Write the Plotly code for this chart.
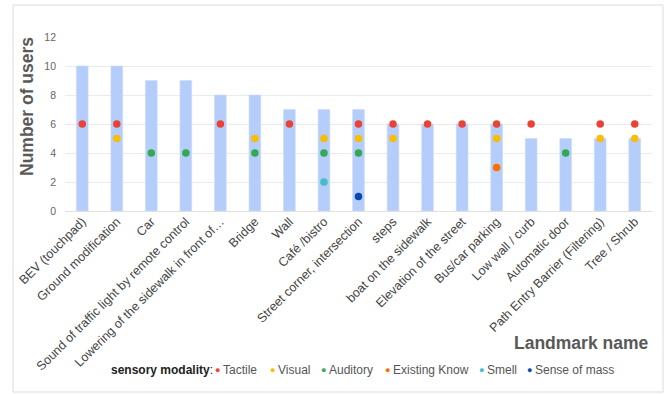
import plotly.graph_objects as go

# Landmarks and how many users named each one
landmarks = [
    "BEV (touchpad)", "Ground modification", "Car",
    "Sound of traffic light by remote control",
    "Lowering of the sidewalk in front of…", "Bridge", "Wall", "Café /bistro",
    "Street corner, intersection", "steps", "boat on the sidewalk",
    "Elevation of the street", "Bus/car parking", "Low wall / curb",
    "Automatic door", "Path Entry Barrier (Filtering)", "Tree / Shrub",
]
users = [10, 10, 9, 9, 8, 8, 7, 7, 7, 6, 6, 6, 6, 5, 5, 5, 5]

# Users per sensory modality (None = not mentioned for that landmark)
tactile = [6, 6, None, None, 6, None, 6, None, 6, 6, 6, 6, 6, 6, None, 6, 6]
visual = [None, 5, None, None, None, 5, None, 5, 5, 5, None, None, 5, None, None, 5, 5]
auditory = [None, None, 4, 4, None, 4, None, 4, 4, None, None, None, None, None, 4, None, None]
existing_know = [None] * 12 + [3] + [None] * 4
smell = [None] * 7 + [2] + [None] * 9
sense_of_mass = [None] * 8 + [1] + [None] * 8

modalities = [
    ("Tactile", tactile, "#ea4335"),
    ("Visual", visual, "#fbbc04"),
    ("Auditory", auditory, "#34a853"),
    ("Existing Know", existing_know, "#ff6d01"),
    ("Smell", smell, "#46bdc6"),
    ("Sense of mass", sense_of_mass, "#0b47b1"),
]

FONT = "Liberation Sans, Arial, sans-serif"

fig = go.Figure()
fig.add_trace(go.Bar(
    x=landmarks, y=users, width=0.34, name="Number of users",
    marker=dict(color="#b4cdfa", line=dict(color="#c9dbfb", width=0.6)),
    showlegend=False,
))
for name, vals, color in modalities:
    fig.add_trace(go.Scatter(
        x=landmarks, y=vals, mode="markers", name=name,
        marker=dict(color=color, size=7.5, line=dict(width=0)),
        showlegend=False,
    ))

W, H = 667, 394
L, R, T, B = 65, 15, 37, 183
pw, ph = W - L - R, H - T - B


def px(x):
    return (x - L) / pw


def py(y):
    return (H - B - y) / ph


shapes = [dict(
    type="rect", xref="paper", yref="paper",
    x0=px(13), x1=px(663), y0=py(392), y1=py(5),
    line=dict(color="#dcdcdc", width=1), fillcolor="rgba(0,0,0,0)", layer="below",
)]

annotations = [
    dict(text="<b>Number of users</b>", xref="paper", yref="paper",
         x=px(27), y=py(107), textangle=-90, showarrow=False,
         font=dict(family=FONT, size=17.5, color="#595959"),
         xanchor="center", yanchor="middle"),
    dict(text="<b>Landmark name</b>", xref="paper", yref="paper",
         x=px(650), y=py(343), showarrow=False,
         font=dict(family=FONT, size=17.5, color="#595959"),
         xanchor="right", yanchor="middle"),
    dict(text="<b>sensory modality</b>:", xref="paper", yref="paper",
         x=px(109), y=py(370), showarrow=False,
         font=dict(family=FONT, size=12, color="#222222"),
         xanchor="left", yanchor="middle"),
]

# Custom legend row: coloured dot followed by the modality name
legend_dots = [217, 272, 323, 387, 481, 529]
for (name, _, color), dx in zip(modalities, legend_dots):
    annotations.append(dict(
        text="●", xref="paper", yref="paper", x=px(dx), y=py(370),
        showarrow=False, font=dict(family=FONT, size=9, color=color),
        xanchor="center", yanchor="middle"))
    annotations.append(dict(
        text=name, xref="paper", yref="paper", x=px(dx + 4), y=py(370),
        showarrow=False, font=dict(family=FONT, size=12, color="#555555"),
        xanchor="left", yanchor="middle"))

fig.update_layout(
    width=W, height=H,
    margin=dict(l=L, r=R, t=T, b=B, pad=0),
    paper_bgcolor="white", plot_bgcolor="white",
    font=dict(family=FONT),
    showlegend=False,
    bargap=0.66,
    shapes=shapes, annotations=annotations,
    xaxis=dict(
        type="category", range=[-0.5, len(landmarks) - 0.5],
        tickangle=-45, showgrid=False, ticks="",
        tickfont=dict(family=FONT, size=12.5, color="#444444"),
        showline=False, automargin=False,
    ),
    yaxis=dict(
        range=[0, 12], tickvals=[0, 2, 4, 6, 8, 10, 12],
        gridcolor="#ebebeb", gridwidth=1, zeroline=True,
        zerolinecolor="#e0e0e0", zerolinewidth=1,
        tickfont=dict(family=FONT, size=10.5, color="#666666"),
        ticks="", ticklabelstandoff=8, automargin=False,
    ),
)

fig.write_html("out.html")
